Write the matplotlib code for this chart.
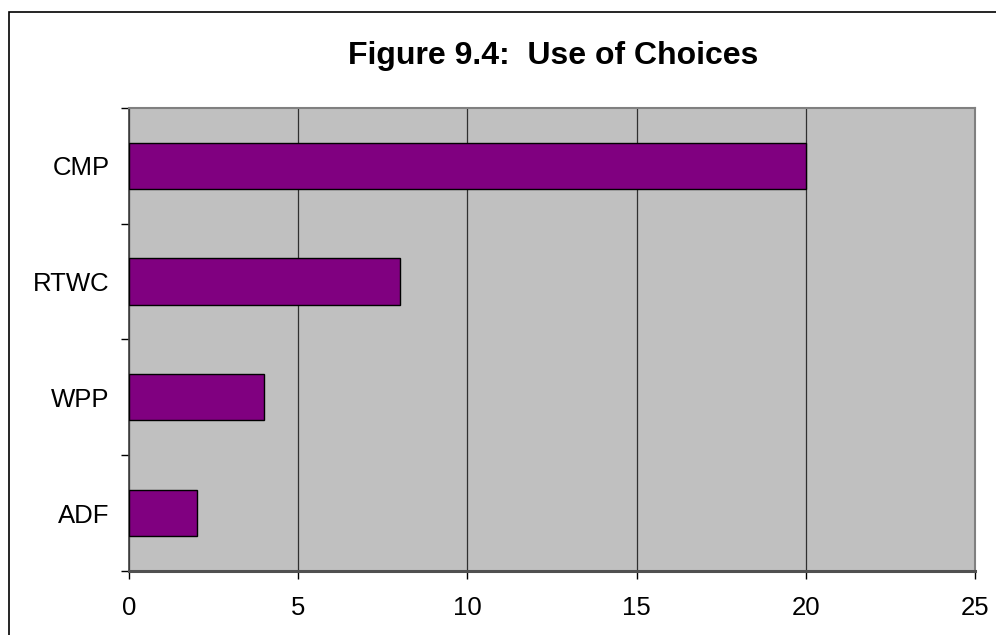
import matplotlib
matplotlib.use('Agg')
import matplotlib.pyplot as plt
from matplotlib.patches import Rectangle
import numpy as np

# Responses per choice type
categories = ['CMP', 'RTWC', 'WPP', 'ADF']
counts = [20, 8, 4, 2]
x_ticks = [0, 5, 10, 15, 20, 25]

plt.rcParams['font.family'] = ['Liberation Sans', 'DejaVu Sans']

fig = plt.figure(figsize=(9.96, 6.35), dpi=100)
ax = fig.add_axes([0.1295, 0.101, 0.8495, 0.729])

# categories listed top to bottom
ypos = np.arange(len(categories))[::-1]
ax.barh(ypos, counts, height=0.4, color='#800080', edgecolor='black',
        linewidth=1.0, zorder=3)

ax.set_facecolor('#c0c0c0')
ax.set_xlim(0, 25)
ax.set_ylim(-0.5, len(categories) - 0.5)
ax.set_xticks(x_ticks)
ax.set_xticklabels([str(t) for t in x_ticks], fontsize=18.5)
ax.set_yticks(ypos)
ax.set_yticklabels(categories, fontsize=18.5)
ax.tick_params(axis='y', which='major', length=0, pad=14)
ax.tick_params(axis='x', which='major', length=6, width=1, color='black',
               pad=12, direction='out')

# small marks between categories on the left side
ax.set_yticks(np.arange(len(categories) + 1) - 0.5, minor=True)
ax.tick_params(axis='y', which='minor', length=6, width=1, color='black',
               direction='out')

ax.grid(axis='x', color='#303030', linewidth=0.9, zorder=1)
ax.set_axisbelow(True)

ax.spines['top'].set_color('#808080')
ax.spines['right'].set_color('#808080')
ax.spines['top'].set_linewidth(1.5)
ax.spines['right'].set_linewidth(1.5)
ax.spines['left'].set_color('#404040')
ax.spines['left'].set_linewidth(1.2)
ax.spines['bottom'].set_color('#505050')
ax.spines['bottom'].set_linewidth(2.2)

fig.text(0.555, 0.912, 'Figure 9.4:  Use of Choices', ha='center', va='center',
         fontsize=23, fontweight='bold')

# outer frame of the chart area
fig.patches.append(Rectangle((9 / 996, -0.2), 1.2, 1.2 - 12 / 635,
                             transform=fig.transFigure, fill=False,
                             edgecolor='black', linewidth=1.2))

fig.savefig('out.png', dpi=100)
